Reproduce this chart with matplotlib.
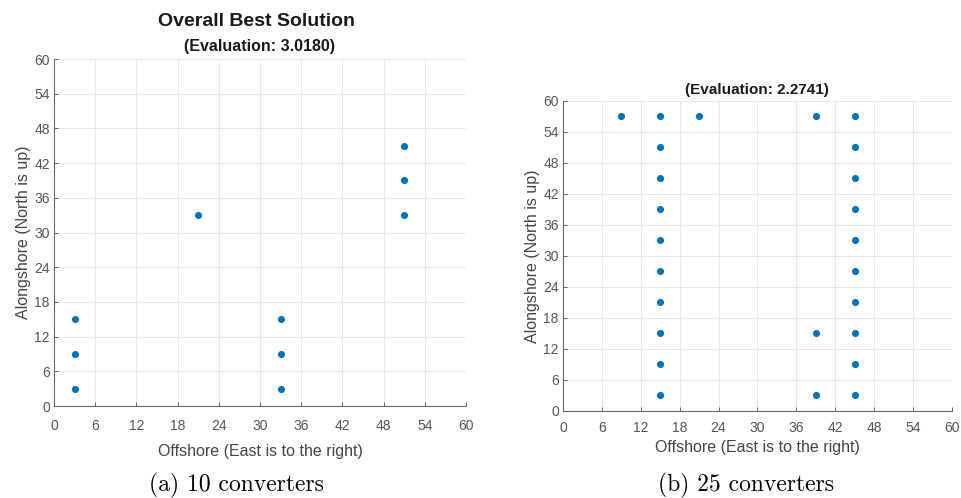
import matplotlib
matplotlib.use("Agg")
import matplotlib.pyplot as plt

# converter positions (offshore x, alongshore y)
x_10 = [3, 3, 3, 33, 33, 33, 21, 51, 51, 51]
y_10 = [3, 9, 15, 3, 9, 15, 33, 33, 39, 45]

x_25 = [15] * 10 + [45] * 10 + [39, 39, 39, 9, 21]
y_25 = [3, 9, 15, 21, 27, 33, 39, 45, 51, 57] * 2 + [3, 15, 57, 57, 57]

ticks = list(range(0, 61, 6))
eval_10 = "3.0180"
eval_25 = "2.2741"

BLUE = "#0072BD"
AXIS_GREY = "#555555"
SANS = "Liberation Sans"

fig = plt.figure(figsize=(9.61, 4.98), dpi=100)


def style_axes(ax, xpad, labelpad):
    ax.set_xlim(0, 60)
    ax.set_ylim(0, 60)
    ax.set_xticks(ticks)
    ax.set_yticks(ticks)
    ax.grid(True, color="#e8e8e8", linewidth=0.7)
    ax.set_axisbelow(True)
    for side in ("top", "right"):
        ax.spines[side].set_visible(False)
    for side in ("left", "bottom"):
        ax.spines[side].set_color("#666666")
        ax.spines[side].set_linewidth(0.8)
    ax.tick_params(direction="in", length=3, width=0.7, colors="#666666",
                   labelsize=10, labelcolor=AXIS_GREY)
    ax.tick_params(axis="x", pad=xpad)
    ax.tick_params(axis="y", pad=3)
    for lab in ax.get_xticklabels() + ax.get_yticklabels():
        lab.set_fontfamily(SANS)
    ax.set_xlabel("Offshore (East is to the right)", fontsize=11.5,
                  fontfamily=SANS, color="#444444", labelpad=labelpad)
    ax.set_ylabel("Alongshore (North is up)", fontsize=11.5,
                  fontfamily=SANS, color="#444444", labelpad=2)


ax1 = fig.add_axes([0.0562, 0.1847, 0.4287, 0.6968])
ax1.scatter(x_10, y_10, s=26, color=BLUE, zorder=3, linewidths=0)
style_axes(ax1, xpad=9, labelpad=8)

ax2 = fig.add_axes([0.5858, 0.1747, 0.4048, 0.6225])
ax2.scatter(x_25, y_25, s=26, color=BLUE, zorder=3, linewidths=0)
style_axes(ax2, xpad=7, labelpad=4)

# titles
fig.text(257 / 961, 1 - 22 / 498, "Overall Best Solution", ha="center", va="center",
         fontsize=14, fontweight="bold", fontfamily=SANS, color="#1a1a1a")
fig.text(260 / 961, 1 - 47 / 498, f"(Evaluation: {eval_10})", ha="center", va="center",
         fontsize=11.5, fontweight="bold", fontfamily=SANS, color="#1a1a1a")
fig.text(757 / 961, 1 - 90 / 498, f"(Evaluation: {eval_25})", ha="center", va="center",
         fontsize=11, fontweight="bold", fontfamily=SANS, color="#1a1a1a")

# sub-figure captions
fig.text(236 / 961, 1 - 485 / 498, "(a) 10 converters", ha="center", va="center",
         fontsize=17, fontfamily="cmr10", color="black")
fig.text(746 / 961, 1 - 485 / 498, "(b) 25 converters", ha="center", va="center",
         fontsize=17, fontfamily="cmr10", color="black")

fig.savefig("out.png", dpi=100, facecolor="white")
